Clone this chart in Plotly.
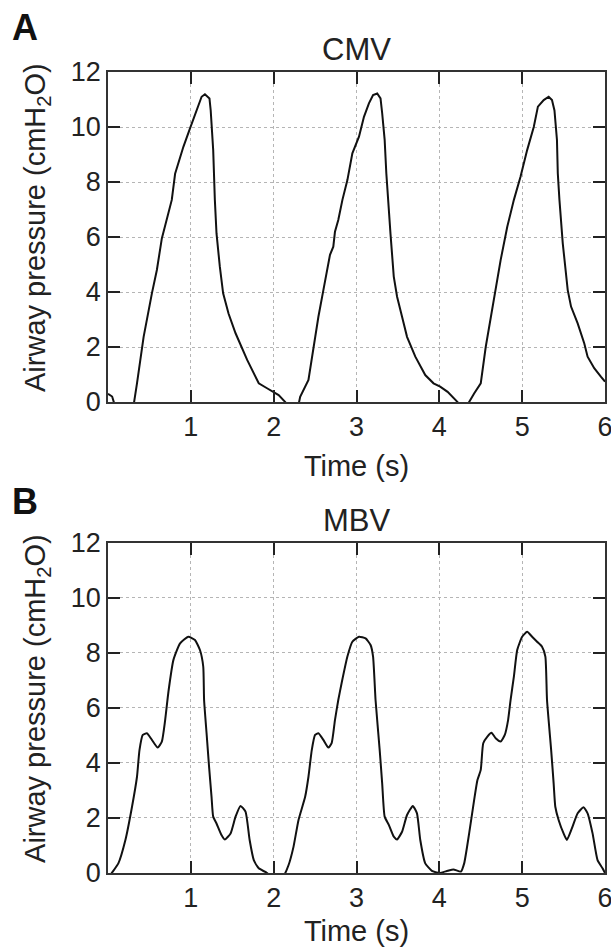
import plotly.graph_objects as go
from plotly.subplots import make_subplots

# ---- Data ----
cmv_t = [0.0, 0.05, 0.10, 0.30, 0.35, 0.43, 0.53, 0.59, 0.65, 0.71, 0.77, 0.81, 0.91, 0.99, 1.07, 1.13, 1.17,
         1.225, 1.24, 1.27, 1.29, 1.31, 1.35, 1.39, 1.455, 1.54, 1.68, 1.82, 1.92, 2.00, 2.06, 2.14, 2.20, 2.30,
         2.32, 2.42, 2.48, 2.54, 2.60, 2.68, 2.72, 2.74, 2.78, 2.83, 2.89, 2.95, 3.03, 3.09, 3.15, 3.20, 3.25,
         3.29, 3.31, 3.34, 3.36, 3.38, 3.41, 3.45, 3.49, 3.55, 3.61, 3.71, 3.83, 3.93, 4.01, 4.10, 4.22, 4.28,
         4.34, 4.42, 4.50, 4.56, 4.62, 4.68, 4.74, 4.82, 4.90, 4.98, 5.06, 5.14, 5.19, 5.26, 5.32, 5.36, 5.39,
         5.42, 5.43, 5.45, 5.49, 5.55, 5.59, 5.67, 5.75, 5.79, 5.87, 5.95, 6.0]
cmv_p = [0.3, 0.2, -0.3, -0.3, 0.68, 2.37, 3.95, 4.8, 5.95, 6.6, 7.35, 8.3, 9.28, 9.95, 10.6, 11.1, 11.19,
         11.04, 10.6, 9.16, 7.35, 6.13, 4.92, 3.95, 3.22, 2.5, 1.53, 0.68, 0.5, 0.37, 0.25, 0.0, -0.3, -0.1,
         0.19, 0.8, 2.0, 3.1, 4.07, 5.35, 5.65, 6.19, 6.62, 7.35, 8.07, 9.04, 9.65, 10.37, 10.86, 11.16, 11.22,
         11.04, 10.5, 9.53, 8.32, 7.35, 6.13, 4.56, 3.83, 3.1, 2.37, 1.65, 0.98, 0.68, 0.56, 0.37, 0.0, -0.3,
         -0.1, 0.31, 0.68, 2.0, 3.1, 4.19, 5.16, 6.37, 7.35, 8.19, 9.16, 10.0, 10.74, 10.98, 11.1, 10.98, 10.6,
         9.53, 8.32, 7.35, 5.77, 4.07, 3.47, 2.86, 2.13, 1.65, 1.23, 0.92, 0.74]

mbv_t = [0.0, 0.045, 0.125, 0.21, 0.29, 0.35, 0.38, 0.42, 0.47, 0.53, 0.60, 0.65, 0.69, 0.73, 0.79, 0.87,
         0.97, 1.05, 1.11, 1.15, 1.16, 1.19, 1.22, 1.25, 1.27, 1.31, 1.37, 1.41, 1.48, 1.54, 1.60, 1.66, 1.71,
         1.76, 1.82, 1.92, 2.02, 2.12, 2.18, 2.24, 2.30, 2.38, 2.42, 2.46, 2.50, 2.54, 2.60, 2.66, 2.70, 2.74,
         2.78, 2.82, 2.89, 2.95, 3.03, 3.11, 3.17, 3.20, 3.23, 3.28, 3.31, 3.34, 3.39, 3.45, 3.49, 3.55, 3.61,
         3.68, 3.73, 3.77, 3.83, 3.91, 4.00, 4.10, 4.17, 4.26, 4.30, 4.36, 4.42, 4.46, 4.50, 4.53, 4.58, 4.63,
         4.68, 4.74, 4.79, 4.83, 4.86, 4.90, 4.94, 5.00, 5.06, 5.12, 5.18, 5.24, 5.28, 5.30, 5.35, 5.38, 5.40,
         5.44, 5.50, 5.54, 5.60, 5.67, 5.74, 5.79, 5.85, 5.91, 5.97, 6.0]
mbv_p = [-0.2, 0.0, 0.35, 1.2, 2.41, 3.5, 4.47, 5.02, 5.08, 4.84, 4.56, 4.78, 5.56, 6.6, 7.75, 8.35,
         8.59, 8.47, 8.11, 7.5, 6.29, 5.08, 3.87, 2.77, 2.05, 1.8, 1.38, 1.22, 1.44, 2.05, 2.44, 2.23, 1.2,
         0.47, 0.17, 0.0, -0.3, -0.1, 0.29, 0.96, 1.93, 2.77, 3.5, 4.47, 5.02, 5.08, 4.84, 4.56, 4.72, 5.56,
         6.29, 6.9, 7.87, 8.41, 8.59, 8.53, 8.29, 7.87, 6.29, 4.47, 3.26, 2.05, 1.75, 1.32, 1.22, 1.5, 2.11,
         2.44, 2.17, 1.2, 0.35, 0.08, 0.0, 0.08, 0.13, 0.05, 0.35, 1.44, 2.65, 3.38, 3.75, 4.72, 4.96, 5.1,
         4.9, 4.78, 5.02, 5.56, 6.29, 7.14, 8.11, 8.59, 8.77, 8.59, 8.41, 8.23, 7.87, 6.29, 4.47, 3.26, 2.41,
         1.93, 1.44, 1.2, 1.62, 2.17, 2.39, 2.17, 1.44, 0.47, 0.17, 0.0]

x_ticks = [1, 2, 3, 4, 5, 6]
y_ticks = [0, 2, 4, 6, 8, 10, 12]
panel_titles = ["CMV", "MBV"]
panel_letters = ["A", "B"]
y_title = "Airway pressure (cmH<sub>2</sub>O)"
x_title = "Time (s)"

FONT = "Liberation Sans, Arial, sans-serif"
TXT = "#222222"

fig = make_subplots(rows=2, cols=1, vertical_spacing=0.0)
fig.add_trace(go.Scatter(x=cmv_t, y=cmv_p, mode="lines", line=dict(color="#111111", width=2),
                         showlegend=False), row=1, col=1)
fig.add_trace(go.Scatter(x=mbv_t, y=mbv_p, mode="lines", line=dict(color="#111111", width=2,
                         shape="spline", smoothing=0.5), showlegend=False), row=2, col=1)

axis_common = dict(showline=True, linecolor="#333333", linewidth=1.6, mirror="ticks",
                   ticks="inside", ticklen=12, tickwidth=2.2, tickcolor="#222222",
                   showgrid=True, gridcolor="#b5b5b5", griddash="dot", gridwidth=1,
                   zeroline=False, layer="above traces", automargin=False,
                   ticklabeloverflow="allow",
                   tickfont=dict(family=FONT, size=27, color=TXT))

for r in (1, 2):
    fig.update_xaxes(range=[0, 6], tickmode="array", tickvals=x_ticks,
                     ticktext=[str(v) for v in x_ticks],
                     title=dict(text=x_title, font=dict(family=FONT, size=29, color=TXT), standoff=14),
                     row=r, col=1, **axis_common)
    fig.update_yaxes(range=[0, 12], tickmode="array", tickvals=y_ticks,
                     ticktext=[str(v) for v in y_ticks],
                     row=r, col=1, **axis_common)

fig.update_layout(
    width=611, height=947,
    margin=dict(l=108, r=6, t=72, b=74, autoexpand=False),
    plot_bgcolor="white", paper_bgcolor="white",
    yaxis=dict(domain=[0.588, 1.0]),
    yaxis2=dict(domain=[0.0, 0.412]),
    showlegend=False,
)

annots = [
    dict(text=panel_titles[0], x=0.5, y=1.0287, xref="paper", yref="paper", showarrow=False,
         font=dict(family=FONT, size=31, color=TXT), xanchor="center", yanchor="middle"),
    dict(text=panel_titles[1], x=0.5, y=0.4395, xref="paper", yref="paper", showarrow=False,
         font=dict(family=FONT, size=31, color=TXT), xanchor="center", yanchor="middle"),
    dict(text="<b>" + panel_letters[0] + "</b>", x=-0.167, y=1.055, xref="paper", yref="paper",
         showarrow=False, font=dict(family=FONT, size=36, color="#111111"), xanchor="center", yanchor="middle"),
    dict(text="<b>" + panel_letters[1] + "</b>", x=-0.167, y=0.4644, xref="paper", yref="paper",
         showarrow=False, font=dict(family=FONT, size=36, color="#111111"), xanchor="center", yanchor="middle"),
    dict(text=y_title, x=-0.1429, y=0.8065, xref="paper", yref="paper", showarrow=False, textangle=-90,
         font=dict(family=FONT, size=29, color=TXT), xanchor="center", yanchor="middle"),
    dict(text=y_title, x=-0.1429, y=0.2185, xref="paper", yref="paper", showarrow=False, textangle=-90,
         font=dict(family=FONT, size=29, color=TXT), xanchor="center", yanchor="middle"),
]
fig.update_layout(annotations=annots)

fig.write_html("out.html", config={"displayModeBar": False},
               post_script="document.body.style.margin='0px';document.body.style.overflow='hidden';")
